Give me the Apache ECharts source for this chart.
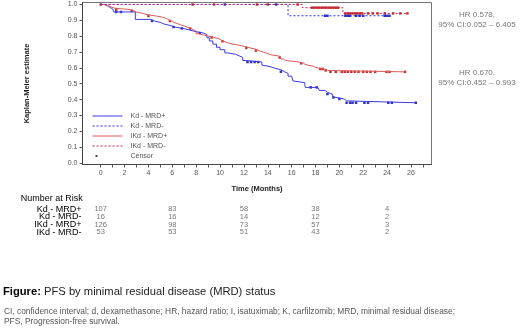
<!DOCTYPE html>
<html>
<head>
<meta charset="utf-8">
<script src="https://cdn.jsdelivr.net/npm/echarts@6/dist/echarts.min.js"></script>
<style>
html, body { margin: 0; padding: 0; background: #fff; }
#main { width: 520px; height: 332px; }
</style>
</head>
<body>
<div id="main"></div>
<script>
// KM steps: time (months) of each drop and the estimate after it
var kdPosTime = [0, 0.3, 0.6, 0.8, 1.0, 1.1, 2.9, 4.2, 4.5, 5.0, 5.3, 5.8, 6.2, 6.9, 7.4, 7.9, 8.6, 8.9, 9.1, 9.4, 9.7, 10.0, 10.4, 10.6, 11.3, 11.6, 11.9, 12.1, 13.5, 13.6, 14.2, 14.6, 15.1, 15.4, 15.7, 16.0, 16.1, 16.2, 17.1, 17.15, 18.2, 18.3, 18.8, 19.0, 19.4, 19.5, 19.7, 20.4, 20.6, 26.4];
var kdPosSurv = [1, 0.99, 0.981, 0.972, 0.963, 0.953, 0.906, 0.896, 0.887, 0.877, 0.868, 0.858, 0.849, 0.840, 0.830, 0.820, 0.810, 0.790, 0.770, 0.750, 0.730, 0.715, 0.695, 0.686, 0.676, 0.666, 0.647, 0.637, 0.618, 0.608, 0.598, 0.588, 0.576, 0.565, 0.548, 0.536, 0.518, 0.507, 0.494, 0.477, 0.466, 0.458, 0.446, 0.435, 0.424, 0.414, 0.404, 0.392, 0.38, 0.38];
var kdNegTime = [0, 15.7, 24.2];
var kdNegSurv = [1, 0.929, 0.929];
var ikdPosTime = [0, 0.3, 0.6, 0.9, 1.2, 2.5, 2.8, 3.0, 3.5, 3.9, 4.6, 5.2, 5.5, 5.7, 5.9, 6.1, 6.4, 6.7, 7.0, 7.3, 7.6, 7.8, 8.0, 8.2, 8.6, 9.0, 9.5, 9.9, 10.1, 10.3, 10.6, 11.0, 11.6, 12.1, 12.5, 13.0, 13.3, 13.6, 14.0, 14.3, 15.0, 15.1, 15.3, 15.5, 16.5, 17.0, 17.2, 17.8, 18.0, 18.8, 19.0, 25.5];
var ikdPosSurv = [1, 0.992, 0.984, 0.976, 0.968, 0.96, 0.952, 0.944, 0.936, 0.928, 0.92, 0.912, 0.904, 0.896, 0.888, 0.88, 0.872, 0.864, 0.856, 0.848, 0.84, 0.832, 0.816, 0.808, 0.8, 0.792, 0.784, 0.776, 0.768, 0.759, 0.751, 0.743, 0.735, 0.726, 0.718, 0.709, 0.7, 0.691, 0.682, 0.674, 0.665, 0.656, 0.647, 0.638, 0.629, 0.62, 0.611, 0.602, 0.593, 0.584, 0.575, 0.575];
var ikdNegTime = [0, 16.9, 20.3, 25.7];
var ikdNegSurv = [1, 0.98, 0.944, 0.944];

// censor times
var kdPosCensor = [1.3, 1.7, 4.3, 6.1, 6.8, 8.3, 12.3, 12.6, 12.9, 13.2, 15.1, 17.6, 18.1, 19.0, 19.5, 20.0, 20.6, 20.9, 21.1, 21.4, 22.1, 22.4, 24.1, 24.4, 26.4];
var kdNegCensor = [10.4, 14.7, 18.8, 19.0, 20.5, 20.7, 20.9, 21.4, 21.7, 22.0, 23.8, 24.0, 24.2];
var ikdPosCensor = [1.3, 2.6, 4.0, 5.8, 7.5, 9.3, 10.2, 12.2, 13.0, 15.0, 16.8, 18.4, 18.6, 18.85, 19.25, 19.7, 20.2, 20.45, 20.7, 21.0, 21.3, 21.6, 22.0, 22.3, 22.6, 23.0, 23.95, 24.2, 25.5];
var ikdNegCensor = [0, 7.7, 9.5, 13.1, 14.0, 16.5, 17.7, 17.9, 18.1, 18.3, 18.5, 18.7, 18.9, 19.1, 19.3, 19.5, 19.7, 19.9, 20.5, 20.7, 20.9, 21.1, 21.3, 21.5, 21.7, 21.9, 22.4, 22.8, 23.2, 23.8, 24.5, 25.1, 25.7];

// ticks
var xLabelValues = [0, 2, 4, 6, 8, 10, 12, 14, 16, 18, 20, 22, 24, 26];
var xTickValues = [0, 1, 2, 3, 4, 5, 6, 7, 8, 9, 10, 11, 12, 13, 14, 15, 16, 17, 18, 19, 20, 21, 22, 23, 24, 25, 26, 27];
var yTickValues = [0, 0.1, 0.2, 0.3, 0.4, 0.5, 0.6, 0.7, 0.8, 0.9, 1.0];

// number at risk
var riskGroups = ['Kd - MRD+', 'Kd - MRD-', 'IKd - MRD+', 'IKd - MRD-'];
var riskTimes = [0, 6, 12, 18, 24];
var riskKdPos = [107, 83, 58, 38, 4];
var riskKdNeg = [16, 16, 14, 12, 2];
var riskIkdPos = [126, 98, 73, 57, 3];
var riskIkdNeg = [53, 53, 51, 43, 2];

var blueLine = '#3b3be6';
var redLine = '#e05a5a';
var blueDash = '#2f2fff';
var redDash = '#c8204a';
var blueMark = '#0000b0';
var redMark = '#b00000';

// axis extents so that the frame sits a little outside 0..26 and 0..1
var xMin = -1.525, xMax = 27.72;
var yMin = -0.0095, yMax = 1.0126;

function zip(a, b) {
    var out = [];
    for (var i = 0; i < a.length; i++) out.push([a[i], b[i]]);
    return out;
}
// estimate at time t
function survAt(times, surv, t) {
    var s = surv[0];
    for (var i = 0; i < times.length; i++) {
        if (times[i] <= t) s = surv[i];
    }
    return s;
}
function censorData(c, times, surv) {
    return c.map(function (t) { return [t, survAt(times, surv, t)]; });
}

var riskData = [];
[riskKdPos, riskKdNeg, riskIkdPos, riskIkdNeg].forEach(function (row, r) {
    row.forEach(function (n, i) { riskData.push([riskTimes[i], r, n]); });
});

function kmLine(name, times, surv, color, dashed) {
    return {
        name: name, type: 'line', step: 'end',
        symbol: 'none', showSymbol: false,
        xAxisIndex: 0, yAxisIndex: 0,
        lineStyle: { color: color, width: 1, type: dashed ? [2, 2] : 'solid' },
        itemStyle: { color: color },
        data: zip(times, surv)
    };
}
function censorSeries(c, times, surv, color) {
    return {
        name: 'Censor', type: 'scatter',
        symbol: 'rect', symbolSize: 2.5,
        xAxisIndex: 0, yAxisIndex: 0,
        itemStyle: { color: color },
        data: censorData(c, times, surv)
    };
}

var myChart = echarts.init(document.getElementById('main'), null, { renderer: 'canvas' });
var option = {
    animation: false,
    backgroundColor: '#fff',
    textStyle: { fontFamily: 'Liberation Sans' },
    grid: [
        { left: 82.5, top: 2.5, width: 349, height: 162, show: true, borderColor: '#777', borderWidth: 1, backgroundColor: 'transparent' },
        { left: 82.5, top: 205.5, width: 349, height: 30.4 }
    ],
    xAxis: [
        {
            gridIndex: 0, type: 'value', min: xMin, max: xMax,
            name: 'Time (Months)', nameLocation: 'middle', nameGap: 20,
            nameTextStyle: { fontSize: 7.5, fontWeight: 'bold', color: '#222' },
            axisLine: { show: true, onZero: false, lineStyle: { color: '#444' } },
            axisTick: { show: true, length: 3, customValues: xTickValues, lineStyle: { color: '#555' } },
            axisLabel: { fontSize: 7, color: '#555', margin: 5, customValues: xLabelValues },
            splitLine: { show: false }
        },
        { gridIndex: 1, type: 'value', min: xMin, max: xMax, show: false }
    ],
    yAxis: [
        {
            gridIndex: 0, type: 'value', min: yMin, max: yMax,
            name: 'Kaplan-Meier estimate', nameLocation: 'middle', nameGap: 52, nameRotate: 90,
            nameTextStyle: { fontSize: 7.5, fontWeight: 'bold', color: '#222' },
            axisLine: { show: true, onZero: false, lineStyle: { color: '#444' } },
            axisTick: { show: true, length: 3, customValues: yTickValues, lineStyle: { color: '#555' } },
            axisLabel: {
                fontSize: 7, color: '#555', margin: 5, customValues: yTickValues,
                formatter: function (v) { return v.toFixed(1); }
            },
            splitLine: { show: false }
        },
        {
            gridIndex: 1, type: 'category', data: riskGroups, inverse: true,
            axisLine: { show: false }, axisTick: { show: false },
            axisLabel: { fontSize: 9, color: '#000', margin: 1, interval: 0 }
        }
    ],
    legend: {
        orient: 'vertical', left: 87, top: 107,
        itemWidth: 30, itemHeight: 6, itemGap: 2,
        itemStyle: { opacity: 0 },
        lineStyle: { width: 1 },
        textStyle: { fontSize: 7, color: '#555', lineHeight: 8, padding: [0, 0, 0, 3] },
        data: ['Kd - MRD+', 'Kd - MRD-', 'IKd - MRD+', 'IKd - MRD-',
            { name: 'Censor', icon: 'path://M0,0h0.01v0.01zM3,2h2v2h-2zM29.99,5.99h0.01v0.01z', itemStyle: { color: '#444', opacity: 1 } }]
    },
    graphic: [
        { type: 'text', left: 20.7, top: 194, style: { text: 'Number at Risk', fontSize: 9, fill: '#000', fontFamily: 'Liberation Sans' } },
        { type: 'text', x: 477, y: 15, style: { text: 'HR 0.578,', fontSize: 8, fill: '#777', align: 'center', verticalAlign: 'middle', fontFamily: 'Liberation Sans' } },
        { type: 'text', x: 477, y: 25, style: { text: '95% CI:0.052 \u2013 6.405', fontSize: 8, fill: '#777', align: 'center', verticalAlign: 'middle', fontFamily: 'Liberation Sans' } },
        { type: 'text', x: 477, y: 72.7, style: { text: 'HR 0.670,', fontSize: 8, fill: '#777', align: 'center', verticalAlign: 'middle', fontFamily: 'Liberation Sans' } },
        { type: 'text', x: 477, y: 82.7, style: { text: '95% CI:0.452 \u2013 0.993', fontSize: 8, fill: '#777', align: 'center', verticalAlign: 'middle', fontFamily: 'Liberation Sans' } },
        {
            type: 'text', x: 3, y: 291.7,
            style: {
                text: '{b|Figure:} PFS by minimal residual disease (MRD) status',
                fontSize: 11.2, fill: '#222', verticalAlign: 'middle', fontFamily: 'Liberation Sans',
                rich: { b: { fontSize: 11.2, fontWeight: 'bold', fill: '#000', fontFamily: 'Liberation Sans' } }
            }
        },
        { type: 'text', x: 4, y: 311.7, style: { text: 'CI, confidence interval; d, dexamethasone; HR, hazard ratio; I, isatuximab; K, carfilzomib; MRD, minimal residual disease;', fontSize: 8.4, fill: '#555', verticalAlign: 'middle', fontFamily: 'Liberation Sans' } },
        { type: 'text', x: 4, y: 321.7, style: { text: 'PFS, Progression-free survival.', fontSize: 8.4, fill: '#555', verticalAlign: 'middle', fontFamily: 'Liberation Sans' } }
    ],
    series: [
        kmLine('Kd - MRD+', kdPosTime, kdPosSurv, blueLine, false),
        kmLine('IKd - MRD+', ikdPosTime, ikdPosSurv, redLine, false),
        kmLine('Kd - MRD-', kdNegTime, kdNegSurv, blueDash, true),
        kmLine('IKd - MRD-', ikdNegTime, ikdNegSurv, redDash, true),
        censorSeries(kdPosCensor, kdPosTime, kdPosSurv, blueMark),
        censorSeries(ikdPosCensor, ikdPosTime, ikdPosSurv, redMark),
        censorSeries(kdNegCensor, kdNegTime, kdNegSurv, blueMark),
        censorSeries(ikdNegCensor, ikdNegTime, ikdNegSurv, redMark),
        {
            name: 'risk', type: 'scatter', xAxisIndex: 1, yAxisIndex: 1,
            symbolSize: 1, itemStyle: { color: 'rgba(0,0,0,0)' },
            label: { show: true, position: 'inside', fontSize: 7.5, color: '#555', formatter: function (p) { return p.value[2]; } },
            data: riskData
        }
    ]
};
myChart.setOption(option);
</script>
</body>
</html>
